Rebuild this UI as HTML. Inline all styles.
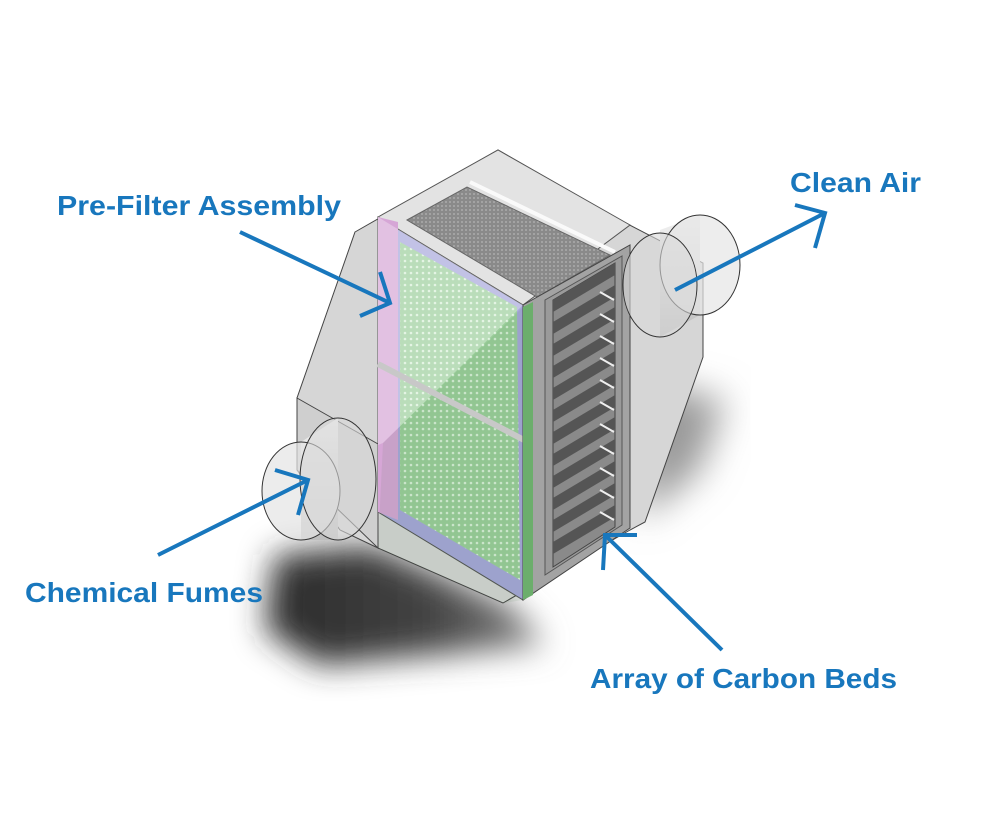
<!DOCTYPE html>
<html><head><meta charset="utf-8"><style>
html,body{margin:0;padding:0;background:#fff;width:1000px;height:813px;overflow:hidden}
svg{display:block}
text{font-family:"Liberation Sans",sans-serif;font-weight:bold;fill:#1877bd;font-size:28px}
</style></head><body>
<svg width="1000" height="813" viewBox="0 0 1000 813">
<defs>
<filter id="blur" x="-30%" y="-30%" width="160%" height="160%"><feGaussianBlur stdDeviation="16"/></filter>
<filter id="blur2" x="-30%" y="-30%" width="160%" height="160%"><feGaussianBlur stdDeviation="18"/></filter>
<pattern id="dots" width="6" height="6" patternUnits="userSpaceOnUse"><rect width="6" height="6" fill="#9ccf9c"/><circle cx="3" cy="3" r="1.3" fill="#d8f0d8"/></pattern>
<pattern id="mesh" width="4" height="4" patternUnits="userSpaceOnUse"><rect width="4" height="4" fill="#8a8a8a"/><circle cx="2" cy="2" r="0.9" fill="#b5b5b5"/></pattern>
<linearGradient id="cyl" x1="0" y1="0" x2="0" y2="1"><stop offset="0" stop-color="#f2f2f2"/><stop offset="1" stop-color="#bdbdbd"/></linearGradient>
<linearGradient id="shd" x1="0" y1="0" x2="1" y2="0"><stop offset="0" stop-color="#2a2a2a"/><stop offset="0.6" stop-color="#444"/><stop offset="1" stop-color="#888"/></linearGradient>
</defs>
<!-- shadows -->
<polygon points="275,555 370,545 510,605 545,645 320,665 265,630" fill="url(#shd)" filter="url(#blur)"/>
<polygon points="640,380 725,400 700,470 640,520" fill="#9a9a9a" filter="url(#blur2)"/>
<!-- body silhouette -->
<polygon points="355,232 498,150 620,220 703,263 703,357 645,522 630,530 503,603 378,548 340,530 297,470 297,398" fill="#d6d6d6" stroke="#444" stroke-width="1"/>
<polygon points="297,398 378,444 378,548 297,470" fill="#cfcfcf" stroke="#444" stroke-width="1"/>
<!-- top face -->
<polygon points="378,217 498,150 630,225 523,305" fill="#e3e3e3" stroke="#555" stroke-width="1"/>
<polygon points="407,220 467,187 610,255 537,297" fill="url(#mesh)" stroke="#666" stroke-width="1"/>
<line x1="470" y1="182" x2="615" y2="252" stroke="#fafafa" stroke-width="4"/>
<!-- front face -->
<polygon points="378,217 523,305 523,600 378,512" fill="#a8a8dc" stroke="#555" stroke-width="1"/>
<polygon points="378,217 398,222 398,520 378,512" fill="#d6a6d6"/>
<polygon points="400,242 517,307 520,580 400,510" fill="url(#dots)"/>
<polygon points="378,217 523,305 383,443 378,445" fill="#ffffff" opacity="0.3"/>
<polygon points="383,443 523,307 523,600 503,603 378,548" fill="#2a6a2a" opacity="0.08"/>
<line x1="378" y1="364" x2="526" y2="441" stroke="#c8c8c8" stroke-width="6"/>
<!-- right face -->
<polygon points="523,305 630,245 630,528 523,600" fill="#a3a3a3" stroke="#444" stroke-width="1"/>
<polygon points="523,307 533,302 533,595 523,600" fill="#6cae6c"/>
<polygon points="545,300 622,256 622,525 545,575" fill="#9a9a9a" stroke="#555" stroke-width="1"/>
<polygon points="553,300 615,263 615,527 553,567" fill="#8a8a8a" stroke="#444" stroke-width="1"/>
<g>
<polygon points="553,300 615,263 615,275 553,312" fill="#555"/>
<polygon points="553,322 615,285 615,297 553,334" fill="#555"/>
<polygon points="553,344 615,307 615,319 553,356" fill="#555"/>
<polygon points="553,366 615,329 615,341 553,378" fill="#555"/>
<polygon points="553,388 615,351 615,363 553,400" fill="#555"/>
<polygon points="553,410 615,373 615,385 553,422" fill="#555"/>
<polygon points="553,432 615,395 615,407 553,444" fill="#555"/>
<polygon points="553,454 615,417 615,429 553,466" fill="#555"/>
<polygon points="553,476 615,439 615,451 553,488" fill="#555"/>
<polygon points="553,498 615,461 615,473 553,510" fill="#555"/>
<polygon points="553,520 615,483 615,495 553,532" fill="#555"/>
<polygon points="553,542 615,505 615,517 553,554" fill="#555"/>
</g>
<g stroke="#eee" stroke-width="2">
<line x1="600" y1="292" x2="614" y2="300"/><line x1="600" y1="314" x2="614" y2="322"/><line x1="600" y1="336" x2="614" y2="344"/><line x1="600" y1="358" x2="614" y2="366"/><line x1="600" y1="380" x2="614" y2="388"/><line x1="600" y1="402" x2="614" y2="410"/><line x1="600" y1="424" x2="614" y2="432"/><line x1="600" y1="446" x2="614" y2="454"/><line x1="600" y1="468" x2="614" y2="476"/><line x1="600" y1="490" x2="614" y2="498"/><line x1="600" y1="512" x2="614" y2="520"/>
</g>
<!-- left cylinder -->
<polygon points="301,442 338,418 338,540 301,540" fill="url(#cyl)"/>
<ellipse cx="301" cy="491" rx="39" ry="49" fill="#e4e4e4" fill-opacity="0.7" stroke="#333" stroke-width="1"/>
<ellipse cx="338" cy="479" rx="38" ry="61" fill="#d9d9d9" fill-opacity="0.6" stroke="#333" stroke-width="1"/>
<!-- right cylinder -->
<polygon points="660,230 700,215 700,315 660,337" fill="url(#cyl)"/>
<ellipse cx="700" cy="265" rx="40" ry="50" fill="#e6e6e6" fill-opacity="0.7" stroke="#333" stroke-width="1"/>
<ellipse cx="660" cy="285" rx="37" ry="52" fill="#d8d8d8" fill-opacity="0.6" stroke="#333" stroke-width="1"/>
<!-- arrows -->
<g stroke="#1877bd" stroke-width="4" fill="none" stroke-linecap="butt">
<line x1="240" y1="232" x2="390" y2="303"/><polyline points="380,272 390,303 360,316"/>
<line x1="675" y1="290" x2="825" y2="213"/><polyline points="795,205 825,213 815,248"/>
<line x1="158" y1="555" x2="308" y2="480"/><polyline points="275,470 308,480 298,515"/>
<line x1="722" y1="650" x2="605" y2="535"/><polyline points="637,535 605,535 603,570"/>
</g>
<!-- labels -->
<text x="57" y="215" textLength="284" lengthAdjust="spacingAndGlyphs">Pre-Filter Assembly</text>
<text x="790" y="192" textLength="131" lengthAdjust="spacingAndGlyphs">Clean Air</text>
<text x="25" y="602" textLength="238" lengthAdjust="spacingAndGlyphs">Chemical Fumes</text>
<text x="590" y="688" textLength="307" lengthAdjust="spacingAndGlyphs">Array of Carbon Beds</text>
</svg>
</body></html>
